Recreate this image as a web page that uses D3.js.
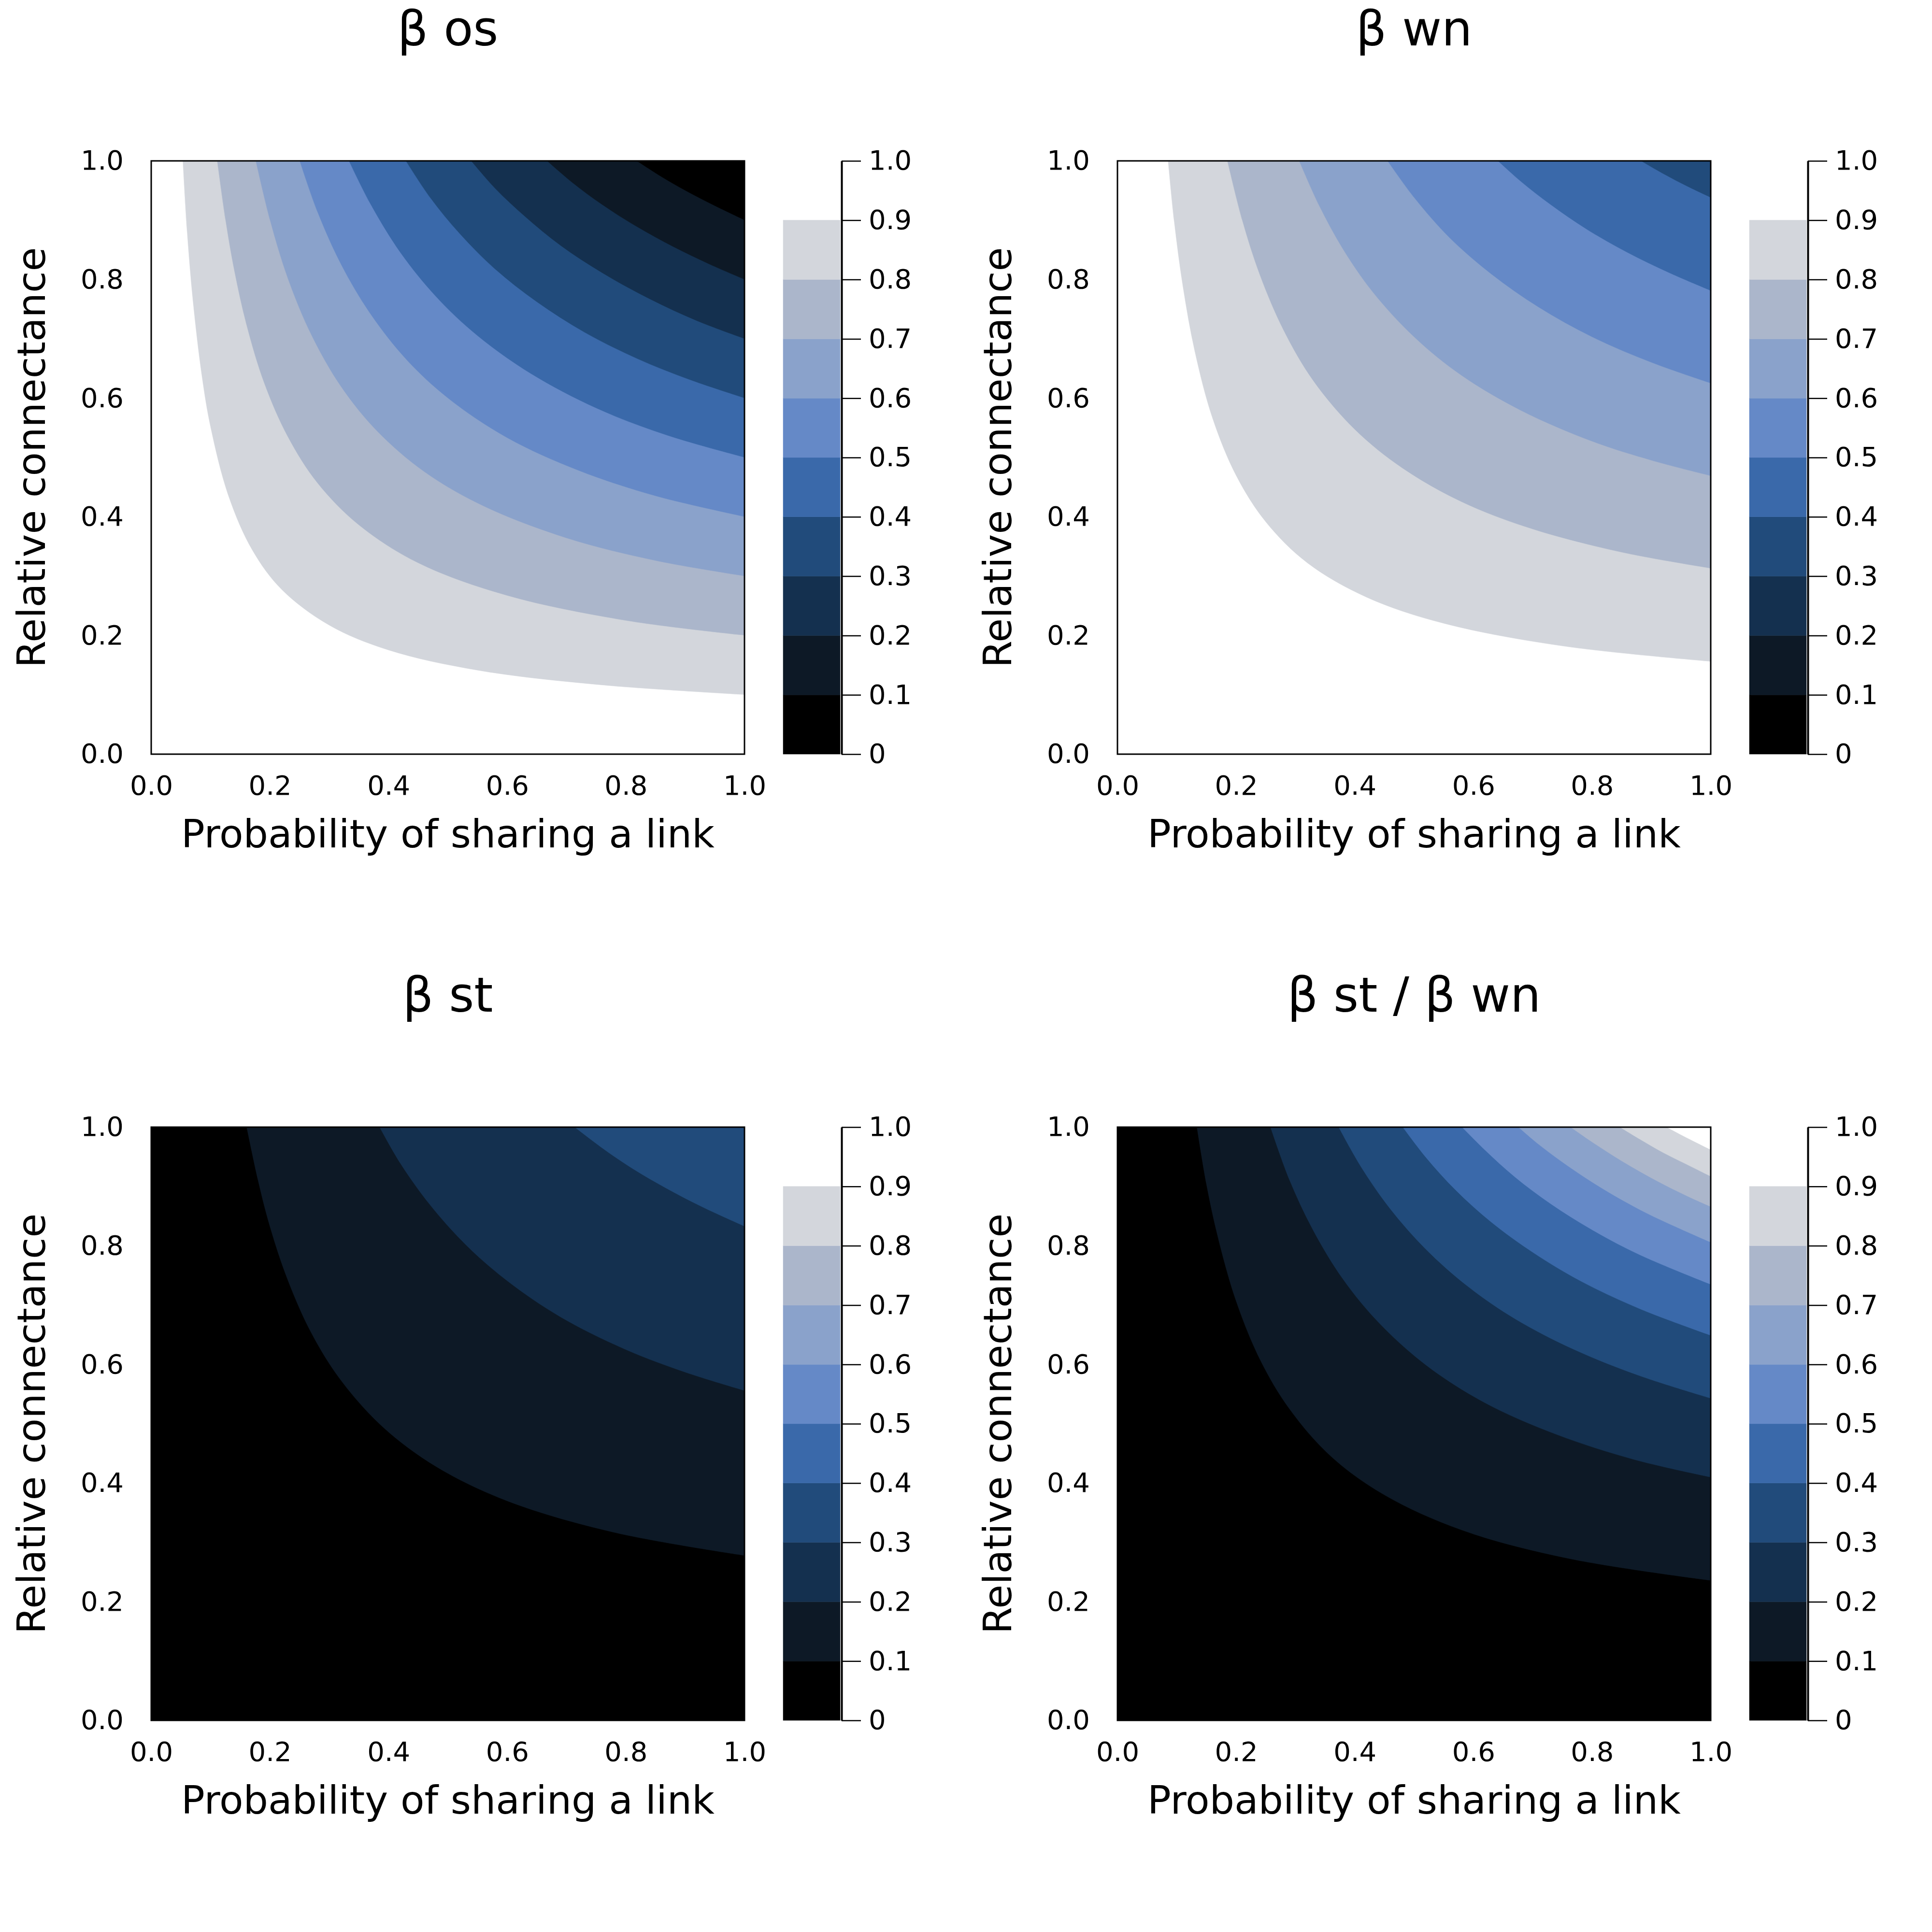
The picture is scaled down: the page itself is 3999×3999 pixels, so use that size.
<!DOCTYPE html>
<html><head><meta charset="utf-8">
<script src="https://cdn.jsdelivr.net/npm/d3@7"></script>
<style>html,body{margin:0;padding:0;background:#fff}</style>
</head><body>
<script>
// ---------- data ----------
const axisTicks = [0, 0.2, 0.4, 0.6, 0.8, 1.0];
const axisTickLabels = ["0.0", "0.2", "0.4", "0.6", "0.8", "1.0"];
const cbTicks = [0, 0.1, 0.2, 0.3, 0.4, 0.5, 0.6, 0.7, 0.8, 0.9, 1.0];
const cbTickLabels = ["0", "0.1", "0.2", "0.3", "0.4", "0.5", "0.6", "0.7", "0.8", "0.9", "1.0"];
const bandColors = ["#000000", "#0d1926", "#14304f", "#214b7b", "#3a69aa",
                    "#6589c7", "#8aa2cb", "#abb6cb", "#d3d6dc", "#ffffff"];
const panelTitles = ["β os", "β wn", "β st", "β st / β wn"];
const xLabel = "Probability of sharing a link";
const yLabel = "Relative connectance";

// contour boundaries: [probability of sharing a link, relative connectance]
const betaOsLevels = [0.1, 0.2, 0.3, 0.4, 0.5, 0.6, 0.7, 0.8, 0.9];
const betaOsCurves = [
  [[.818,1],[.86,.973],[.9,.95],[.95,.924],[1,.9]],
  [[.667,1],[.71,.963],[.76,.926],[.82,.888],[.88,.855],[.94,.826],[1,.8]],
  [[.539,1],[.58,.953],[.63,.906],[.69,.857],[.76,.811],[.84,.767],[.92,.730],[1,.7]],
  [[.429,1],[.47,.938],[.52,.877],[.58,.817],[.65,.762],[.73,.711],[.82,.666],[.91,.630],[1,.6]],
  [[.333,1],[.37,.926],[.42,.845],[.48,.771],[.55,.705],[.64,.641],[.75,.583],[.87,.537],[1,.5]],
  [[.25,1],[.28,.914],[.32,.825],[.37,.741],[.43,.665],[.5,.6],[.6,.533],[.72,.478],[.85,.435],[1,.4]],
  [[.176,1],[.2,.9],[.23,.802],[.27,.706],[.32,.619],[.38,.545],[.46,.476],[.56,.418],[.7,.364],[.85,.326],[1,.3]],
  [[.111,1],[.125,.9],[.14,.814],[.16,.725],[.19,.626],[.23,.535],[.28,.457],[.35,.386],[.45,.322],[.6,.267],[.8,.225],[1,.2]],
  [[.053,1],[.06,.883],[.07,.764],[.085,.638],[.1,.55],[.13,.435],[.17,.344],[.22,.277],[.3,.217],[.4,.175],[.55,.141],[.75,.117],[1,.1]]
];

const betaWnLevels = [0.4, 0.5, 0.6, 0.7, 0.8, 0.9];
const betaWnCurves = [
  [[.882,1],[.92,.978],[.96,.957],[1,.938]],
  [[.641,1],[.68,.965],[.73,.926],[.79,.885],[.86,.845],[.93,.811],[1,.781]],
  [[.455,1],[.5,.938],[.56,.870],[.63,.809],[.71,.753],[.8,.703],[.9,.660],[1,.625]],
  [[.306,1],[.34,.924],[.38,.851],[.43,.779],[.5,.703],[.58,.638],[.68,.579],[.8,.527],[.9,.495],[1,.469]],
  [[.185,1],[.21,.900],[.24,.807],[.28,.714],[.33,.629],[.4,.547],[.48,.482],[.58,.425],[.7,.379],[.85,.340],[1,.313]],
  [[.085,1],[.095,.900],[.11,.788],[.13,.679],[.16,.566],[.2,.469],[.25,.391],[.32,.322],[.42,.264],[.55,.220],[.75,.182],[1,.156]]
];

const betaStLevels = [0.1, 0.2, 0.3];
const betaStCurves = [
  [[.161,1],[.18,.911],[.2,.833],[.23,.743],[.27,.653],[.32,.573],[.39,.495],[.48,.428],[.6,.370],[.78,.317],[1,.278]],
  [[.385,1],[.42,.939],[.47,.869],[.53,.802],[.6,.741],[.69,.680],[.8,.625],[.9,.587],[1,.556]],
  [[.714,1],[.76,.965],[.81,.931],[.87,.896],[.93,.865],[1,.833]]
];

const ratioLevels = [0.1, 0.2, 0.3, 0.4, 0.5, 0.6, 0.7, 0.8, 0.9];
const ratioCurves = [
  [[.134,1],[.15,.904],[.17,.812],[.2,.707],[.24,.609],[.29,.525],[.36,.445],[.45,.380],[.58,.321],[.76,.273],[1,.236]],
  [[.258,1],[.29,.911],[.33,.826],[.38,.744],[.44,.671],[.52,.599],[.62,.535],[.74,.482],[.87,.440],[1,.410]],
  [[.373,1],[.41,.934],[.46,.862],[.52,.794],[.59,.732],[.67,.677],[.77,.625],[.88,.581],[1,.543]],
  [[.481,1],[.52,.949],[.57,.894],[.63,.840],[.7,.789],[.78,.741],[.88,.694],[1,.649]],
  [[.581,1],[.62,.961],[.67,.916],[.73,.871],[.8,.827],[.88,.785],[1,.735]],
  [[.676,1],[.71,.971],[.76,.934],[.82,.895],[.89,.856],[.95,.828],[1,.806]],
  [[.764,1],[.8,.975],[.85,.943],[.91,.909],[.96,.884],[1,.866]],
  [[.847,1],[.88,.980],[.92,.957],[.96,.937],[1,.917]],
  [[.926,1],[.96,.982],[1,.962]]
];

// value at the far corner of each panel decides the base band
const panels = [
  {title: panelTitles[0], levels: betaOsLevels, curves: betaOsCurves, base: 0, side: "below", col: 0, row: 0},
  {title: panelTitles[1], levels: betaWnLevels, curves: betaWnCurves, base: 0.3, side: "below", col: 1, row: 0},
  {title: panelTitles[2], levels: betaStLevels, curves: betaStCurves, base: 0, side: "above", col: 0, row: 1},
  {title: panelTitles[3], levels: ratioLevels, curves: ratioCurves, base: 0, side: "above", col: 1, row: 1}
];

// ---------- drawing ----------
const W = 3999, H = 3999;
const FONT = "'DejaVu Sans', sans-serif";
const svg = d3.select("body").append("svg")
  .attr("width", W).attr("height", H)
  .attr("xmlns", "http://www.w3.org/2000/svg")
  .style("background", "#fff");

const plotL = 313, plotR = 1541, plotT = 333, plotB = 1561;
const x = d3.scaleLinear().domain([0, 1]).range([plotL, plotR]);
const y = d3.scaleLinear().domain([0, 1]).range([plotB, plotT]);
const bandIndex = v => Math.round(v * 10);

const line = d3.line().x(d => x(d[0])).y(d => y(d[1]))
  .curve(d3.curveCatmullRom.alpha(0.5));

svg.append("defs").append("clipPath").attr("id", "plotclip")
  .append("rect").attr("x", plotL).attr("y", plotT)
  .attr("width", plotR - plotL).attr("height", plotB - plotT);

panels.forEach(pn => {
  const g = svg.append("g")
    .attr("transform", `translate(${pn.col * 2000},${pn.row * 2000})`);

  const area = g.append("g").attr("clip-path", "url(#plotclip)");
  area.append("rect")
    .attr("x", x(0)).attr("y", y(1))
    .attr("width", x(1) - x(0)).attr("height", y(0) - y(1))
    .attr("fill", bandColors[bandIndex(pn.base)]);

  pn.curves.forEach((pts, i) => {
    const lvl = pn.levels[i];
    let d = line(pts);
    if (pn.side === "below") {
      d += `L${x(1)},${y(0)}L${x(0)},${y(0)}L${x(0)},${y(1)}Z`;
    } else {
      d += `L${x(1)},${y(1)}Z`;
    }
    area.append("path").attr("d", d)
      .attr("fill", bandColors[bandIndex(lvl)])
      .attr("stroke", bandColors[bandIndex(lvl)])
      .attr("stroke-width", 0.6);
  });

  // frame
  g.append("rect")
    .attr("x", x(0)).attr("y", y(1))
    .attr("width", x(1) - x(0)).attr("height", y(0) - y(1))
    .attr("fill", "none").attr("stroke", "#000").attr("stroke-width", 3);

  // axes (labels only)
  const xa = g.append("g").attr("transform", `translate(0,${plotB})`)
    .call(d3.axisBottom(x).tickValues(axisTicks)
      .tickFormat((d, i) => axisTickLabels[i]).tickSize(0).tickPadding(44));
  const ya = g.append("g").attr("transform", `translate(${plotL},0)`)
    .call(d3.axisLeft(y).tickValues(axisTicks)
      .tickFormat((d, i) => axisTickLabels[i]).tickSize(0).tickPadding(57));
  [xa, ya].forEach(a => {
    a.select(".domain").remove();
    a.selectAll("text").attr("font-family", FONT).attr("font-size", 56).attr("fill", "#000");
  });

  // titles
  g.append("text").attr("x", (plotL + plotR) / 2).attr("y", 94)
    .attr("text-anchor", "middle").attr("font-family", FONT)
    .attr("font-size", 100).text(pn.title);
  g.append("text").attr("x", (plotL + plotR) / 2).attr("y", 1754)
    .attr("text-anchor", "middle").attr("font-family", FONT)
    .attr("font-size", 81).text(xLabel);
  g.append("text")
    .attr("transform", `translate(93,${(plotT + plotB) / 2}) rotate(-90)`)
    .attr("text-anchor", "middle").attr("font-family", FONT)
    .attr("font-size", 81).text(yLabel);

  // colorbar
  const cbL = 1621, cbR = 1739, cbAxis = 1742;
  const cb = g.append("g");
  d3.range(0, 9).forEach(b => {
    cb.append("rect")
      .attr("x", cbL).attr("width", cbR - cbL)
      .attr("y", y((b + 1) / 10)).attr("height", y(b / 10) - y((b + 1) / 10))
      .attr("fill", bandColors[b]).attr("stroke", bandColors[b]).attr("stroke-width", 0.5);
  });
  const cba = g.append("g").attr("transform", `translate(${cbAxis},0)`)
    .call(d3.axisRight(y).tickValues(cbTicks)
      .tickFormat((d, i) => cbTickLabels[i]).tickSize(40).tickSizeOuter(0).tickPadding(16));
  cba.select(".domain").attr("stroke", "#000").attr("stroke-width", 4);
  cba.selectAll(".tick line").attr("stroke", "#000").attr("stroke-width", 2.5);
  cba.selectAll("text").attr("font-family", FONT).attr("font-size", 56).attr("fill", "#000");
});
</script>
</body></html>
